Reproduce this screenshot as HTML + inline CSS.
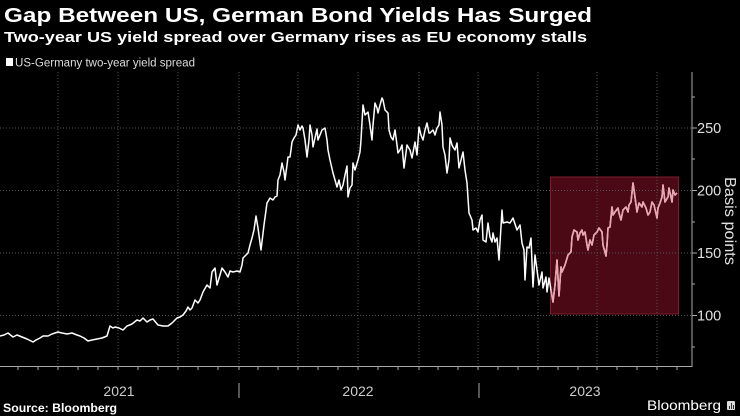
<!DOCTYPE html>
<html><head><meta charset="utf-8"><style>
html,body{margin:0;padding:0;background:#000;}
svg{display:block;}
</style></head><body>
<svg width="740" height="416" viewBox="0 0 740 416" xmlns="http://www.w3.org/2000/svg" font-family="'Liberation Sans', sans-serif">
<defs>
<clipPath id="bx"><rect x="551" y="177.5" width="127" height="136"/></clipPath>
<polyline id="ln" points="0,336 4,335 8,333 13,337 17,335 22,337 27,339 33,342 36,340 40,338 43,336 48,336 52,334 58,332 62,333 67,334 72,333 77,335 80,336 84,338 88,341 92,340 97,339 102,338 107,336 110,326 113,328 115,327 119,328 123,330 127,326 132,324 137,320 140,321 143,318 147,322 150,320 153,319 158,325 163,326 168,326 172,323 177,318 180,317 183,315 186,311 188,307 190,310 192,308 195,300 198,303 200,300 203,292 207,285 210,288 212,272 215,268 217,285 220,275 222,268 225,272 228,277 230,271 233,272 237,271 240,272 242,265 243,258 246,255 248,253 250,245 252,238 254,230 256,216 258,228 261,250 264,225 267,203 270,198 273,200 275,197 277,196 278,180 280,175 282,163 284,172 285,180 287,165 288,157 290,157 291,150 292,142 294,138 296,135 298,125 300,130 302,126 303,128 305,140 307,157 309,140 310,125 312,135 313,147 315,138 317,129 318,140 320,135 322,130 325,128 327,140 328,150 330,160 333,173 335,180 337,187 339,180 341,190 343,185 345,175 347,166 348,197 350,188 352,185 353,163 355,170 358,160 360,152 361,140 363,105 365,115 368,112 370,125 372,140 373,125 375,103 377,108 378,113 380,105 382,98 383,100 385,110 387,112 388,113 389,130 391,137 393,140 395,130 397,145 398,153 400,150 402,145 404,168 407,145 410,150 412,158 415,142 417,155 419,127 421,135 423,140 425,130 427,123 429,133 430,133 433,130 435,135 437,128 439,125 440,112 442,125 443,147 445,155 447,173 449,160 450,138 452,145 453,147 455,150 457,143 459,168 461,160 463,152 465,170 467,183 469,213 472,220 473,230 476,228 478,232 480,220 482,215 483,240 486,242 488,223 490,237 492,242 493,233 495,242 497,238 499,260 502,210 503,223 507,222 510,223 513,218 517,230 520,225 522,243 524,250 525,280 527,247 529,248 531,238 533,287 535,255 537,270 539,285 542,272 543,288 546,277 547,292 549,278 551,290 553,302 555,285 557,260 559,296 561,267 562,272 565,265 568,255 571,252 572,237 574,230 577,232 578,240 580,233 582,230 583,235 585,232 587,245 588,250 590,240 592,245 594,235 597,232 599,228 602,232 603,245 606,256 607,245 608,228 610,227 612,207 613,215 615,212 618,208 619,213 621,220 623,210 626,207 628,212 629,205 631,202 633,183 635,197 637,212 639,203 642,207 643,202 646,208 648,215 650,212 652,202 654,205 657,218 658,208 660,203 662,197 663,185 665,202 668,197 669,188 672,202 673,190 675,195 677,193"/>
</defs>
<rect width="740" height="416" fill="#000"/>
<text x="4" y="22" fill="#fff" font-size="20.5" font-weight="bold" textLength="588" lengthAdjust="spacingAndGlyphs">Gap Between US, German Bond Yields Has Surged</text>
<text x="4" y="42" fill="#fff" font-size="14.5" font-weight="bold" textLength="583" lengthAdjust="spacingAndGlyphs">Two-year US yield spread over Germany rises as EU economy stalls</text>
<rect x="6" y="58" width="7" height="8" fill="#fff"/>
<text x="15" y="66.5" fill="#ddd" font-size="11.5" textLength="180" lengthAdjust="spacingAndGlyphs">US-Germany two-year yield spread</text>
<rect x="550.5" y="177" width="128" height="137" fill="#4a0914" stroke="#7e1d2c" stroke-width="1"/>
<g stroke="#555" stroke-width="1" stroke-dasharray="1,2" fill="none">
<line x1="0" y1="128" x2="692" y2="128"/>
<line x1="0" y1="190.5" x2="692" y2="190.5"/>
<line x1="0" y1="253" x2="692" y2="253"/>
<line x1="0" y1="315.5" x2="692" y2="315.5"/>
<line x1="58" y1="72" x2="58" y2="366"/>
<line x1="118" y1="72" x2="118" y2="366"/>
<line x1="178" y1="72" x2="178" y2="366"/>
<line x1="239" y1="72" x2="239" y2="366"/>
<line x1="298" y1="72" x2="298" y2="366"/>
<line x1="358" y1="72" x2="358" y2="366"/>
<line x1="419" y1="72" x2="419" y2="366"/>
<line x1="478" y1="72" x2="478" y2="366"/>
<line x1="538" y1="72" x2="538" y2="366"/>
<line x1="597" y1="72" x2="597" y2="366"/>
<line x1="657" y1="72" x2="657" y2="366"/>
</g>
<g fill="none" stroke="#fff" stroke-width="1.5" stroke-linejoin="round"><use href="#ln"/></g>
<g fill="none" stroke="#e9a6b0" stroke-width="1.6" stroke-linejoin="round" clip-path="url(#bx)"><use href="#ln"/></g>
<g stroke="#aaa" stroke-width="1" fill="none">
<line x1="692" y1="72" x2="692" y2="367"/>
<line x1="0" y1="366.5" x2="692.5" y2="366.5"/>
<line x1="692" y1="128" x2="697" y2="128"/>
<line x1="692" y1="190.5" x2="697" y2="190.5"/>
<line x1="692" y1="253" x2="697" y2="253"/>
<line x1="692" y1="315.5" x2="697" y2="315.5"/>
<line x1="692" y1="97" x2="695" y2="97"/>
<line x1="692" y1="159" x2="695" y2="159"/>
<line x1="692" y1="222" x2="695" y2="222"/>
<line x1="692" y1="284" x2="695" y2="284"/>
<line x1="692" y1="347" x2="695" y2="347"/>
<path d="M18 367v3M38 367v3M58 367v3M78 367v3M98 367v3M118 367v3M138 367v3M158 367v3M178 367v3M198 367v3M218 367v3M239 367v3M258 367v3M278 367v3M298 367v3M318 367v3M338 367v3M358 367v3M378 367v3M398 367v3M419 367v3M438 367v3M458 367v3M478 367v3M498 367v3M518 367v3M538 367v3M558 367v3M578 367v3M597 367v3M617 367v3M637 367v3M657 367v3M677 367v3"/>
<line x1="239" y1="383" x2="239" y2="398"/>
<line x1="479" y1="383" x2="479" y2="398"/>
</g>
<g fill="#e0e0e0" font-size="14.5">
<text x="697" y="133">250</text>
<text x="697" y="195.5">200</text>
<text x="697" y="258">150</text>
<text x="697" y="320.5">100</text>
</g>
<text transform="translate(725,221) rotate(90)" fill="#e0e0e0" font-size="15.5" text-anchor="middle" textLength="88" lengthAdjust="spacingAndGlyphs">Basis points</text>
<g fill="#ccc" font-size="14" text-anchor="middle">
<text x="119" y="396">2021</text>
<text x="358" y="396">2022</text>
<text x="585" y="396">2023</text>
</g>
<text x="3" y="412" fill="#fff" font-size="12" font-weight="bold" textLength="114" lengthAdjust="spacingAndGlyphs">Source: Bloomberg</text>
<text x="647" y="410" fill="#fff" font-size="14" textLength="74" lengthAdjust="spacingAndGlyphs">Bloomberg</text>
<rect x="727" y="401" width="8" height="9" fill="#ddd" rx="1"/>
<g stroke="#333" stroke-width="1"><line x1="729.5" y1="409" x2="729.5" y2="406"/><line x1="731.5" y1="409" x2="731.5" y2="403"/><line x1="733.5" y1="409" x2="733.5" y2="405"/></g>
</svg>
</body></html>
